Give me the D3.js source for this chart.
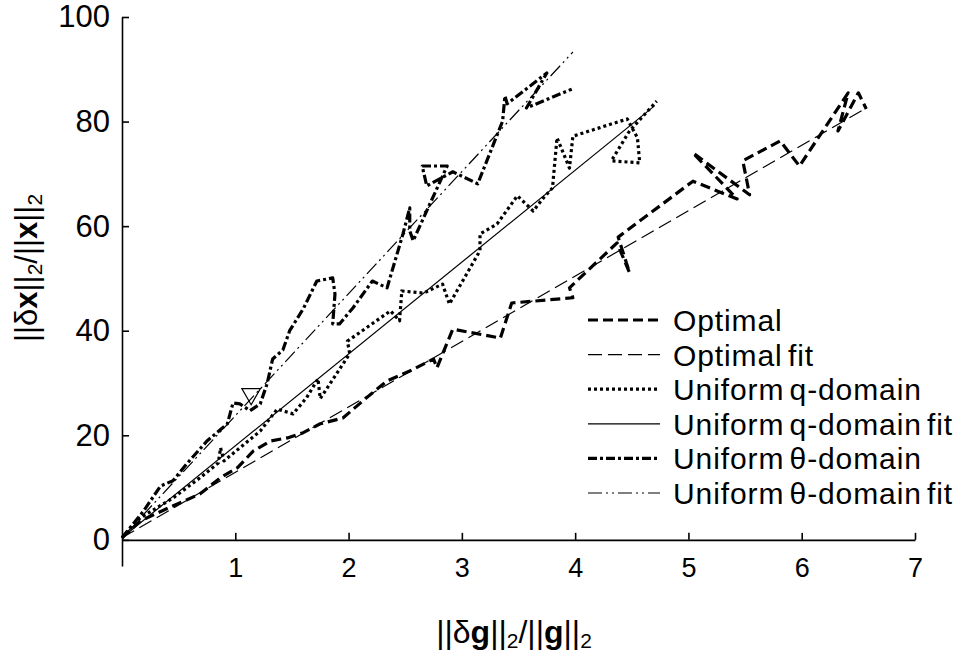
<!DOCTYPE html>
<html>
<head>
<meta charset="utf-8">
<script src="https://cdn.jsdelivr.net/npm/d3@7"></script>
<style>
  body { margin: 0; background: #fff; }
  svg { display: block; font-family: "Liberation Sans", Arial, sans-serif; }
</style>
</head>
<body>
<svg id="chart" width="964" height="655"></svg>
<script>
// series, [x, y]
const optimal = [
  [0, 0.4], [0.16, 3.6], [0.41, 6.1], [0.69, 8.8], [0.87, 11.9], [1.02, 13.8],
  [1.16, 17.0], [1.31, 18.9], [1.46, 19.5], [1.6, 20.5], [1.75, 22.2], [1.95, 23.3],
  [2.16, 27.2], [2.34, 30.4], [2.54, 32.3], [2.75, 34.6], [2.78, 32.9], [2.92, 40.3],
  [3.34, 38.6], [3.44, 45.3], [3.98, 46.3], [3.95, 48.2], [4.37, 56.8], [4.48, 51.1],
  [4.38, 57.9], [5.04, 68.6], [5.43, 65.2], [5.04, 74.0], [5.54, 66.0], [5.48, 72.5],
  [5.81, 76.3], [5.98, 71.5], [6.41, 85.5], [6.32, 78.2], [6.5, 85.5], [6.57, 82.4]
];
const optimalFit = [[0, 0.4], [6.57, 82.6]];

const uniformQ = [
  [0, 0.4], [0.16, 4.2], [0.45, 8.0], [0.69, 11.9], [0.85, 14.7], [0.87, 17.6],
  [0.9, 15.1], [1.22, 20.8], [1.37, 25.0], [1.51, 24.1], [1.63, 27.2], [1.73, 30.8],
  [1.75, 27.0], [2.01, 35.6], [1.99, 38.0], [2.37, 43.8], [2.45, 41.9], [2.47, 47.6],
  [2.66, 47.2], [2.83, 48.9], [2.89, 45.1], [3.16, 55.3], [3.16, 58.5], [3.31, 60.4],
  [3.49, 65.8], [3.63, 62.9], [3.72, 65.4], [3.8, 67.3], [3.84, 76.9], [3.95, 71.1],
  [3.98, 77.2], [4.46, 80.5], [4.55, 76.9], [4.57, 72.1], [4.32, 72.5], [4.48, 78.2],
  [4.72, 83.9]
];
const uniformQFit = [[0, 0.4], [4.7, 83.0]];

const uniformTheta = [
  [0, 0.4], [0.19, 5.5], [0.34, 10.3], [0.45, 11.3], [0.57, 14.5], [0.75, 18.9],
  [0.93, 22.2], [0.98, 26.2], [1.04, 26.0], [1.13, 24.7], [1.22, 26.0], [1.28, 29.8],
  [1.33, 34.6], [1.42, 36.3], [1.48, 40.0], [1.6, 44.2], [1.72, 49.5], [1.86, 50.1],
  [1.88, 47.0], [1.86, 41.3], [1.92, 41.3], [2.04, 44.4], [2.21, 49.5], [2.34, 48.2],
  [2.48, 58.5], [2.54, 63.5], [2.54, 59.1], [2.57, 57.2], [2.87, 71.5], [2.65, 71.5],
  [2.69, 67.7], [2.92, 70.4], [3.14, 68.1], [3.36, 80.1], [3.38, 84.9], [3.4, 83.4],
  [3.75, 89.3], [3.57, 82.6], [3.97, 86.2]
];
const uniformThetaFit = [[0, 0.4], [3.98, 93.3]];

const markerPoints = [[1.14, 27.9]];

const xTicks = [1, 2, 3, 4, 5, 6, 7];
const yTicks = [0, 20, 40, 60, 80, 100];

const legendLabels = [
  "Optimal", "Optimal fit", "Uniform q-domain",
  "Uniform q-domain fit", "Uniform θ-domain", "Uniform θ-domain fit"
];

const seriesList = [
  { data: optimal,         width: 3.2, dash: "10,5" },
  { data: optimalFit,      width: 1.2, dash: "14,6" },
  { data: uniformQ,        width: 3.2, dash: "3,3" },
  { data: uniformQFit,     width: 1.2, dash: null },
  { data: uniformTheta,    width: 3.2, dash: "9,3,3,3" },
  { data: uniformThetaFit, width: 1.2, dash: "14,4,2,4,2,4" }
];

const svg = d3.select("#chart");

const x = d3.scaleLinear().domain([0, 7]).range([122, 915]);
const y = d3.scaleLinear().domain([-5, 100]).range([566, 17]);

// axes: x axis crosses at y = 0, ticks point inward
const xAxis = d3.axisBottom(x).tickValues(xTicks).tickFormat(d3.format("d"))
  .tickSizeInner(-7).tickSizeOuter(0).tickPadding(18);
const yAxis = d3.axisLeft(y).tickValues(yTicks).tickFormat(d3.format("d"))
  .tickSizeInner(-7).tickSizeOuter(0).tickPadding(12);

const gx = svg.append("g").attr("transform", `translate(0,${y(0)})`).call(xAxis);
const gy = svg.append("g").attr("transform", `translate(${x(0)},0)`).call(yAxis);

gx.selectAll("text").attr("font-size", 27).attr("fill", "#000");
gy.selectAll("text").attr("font-size", 31).attr("fill", "#000");
svg.selectAll(".domain, .tick line").attr("stroke", "#000").attr("stroke-width", 1.6);

// lines
const line = d3.line().x(d => x(d[0])).y(d => y(d[1]));

svg.append("g").selectAll("path")
  .data(seriesList)
  .join("path")
  .attr("d", s => line(s.data))
  .attr("fill", "none")
  .attr("stroke", "#000")
  .attr("stroke-width", s => s.width)
  .attr("stroke-dasharray", s => s.dash)
  .attr("stroke-linejoin", "round");

svg.append("g").selectAll("path")
  .data(markerPoints)
  .join("path")
  .attr("d", d3.symbol(d3.symbolTriangle, 150))
  .attr("transform", d => `translate(${x(d[0])},${y(d[1])}) rotate(180)`)
  .attr("fill", "none")
  .attr("stroke", "#000")
  .attr("stroke-width", 1.2);

// legend
const legend = svg.append("g").attr("transform", "translate(588,320)");
const rows = legend.selectAll("g")
  .data(seriesList)
  .join("g")
  .attr("transform", (d, i) => `translate(0,${i * 34.6})`);

rows.append("line")
  .attr("x1", 0).attr("x2", 72)
  .attr("stroke", "#000")
  .attr("stroke-width", d => d.width)
  .attr("stroke-dasharray", d => d.dash);

rows.append("text")
  .attr("x", 85).attr("y", 11)
  .attr("font-size", 30)
  .attr("letter-spacing", 0.9)
  .attr("word-spacing", -4)
  .attr("fill", "#000")
  .text((d, i) => legendLabels[i]);

// axis titles
const sub = 21;
const xTitle = svg.append("text")
  .attr("x", 514).attr("y", 643)
  .attr("text-anchor", "middle")
  .attr("font-size", 32);
xTitle.append("tspan").text("||δ");
xTitle.append("tspan").attr("font-weight", "bold").text("g");
xTitle.append("tspan").text("||");
xTitle.append("tspan").attr("font-size", sub).attr("dy", 5).text("2");
xTitle.append("tspan").attr("dy", -5).text("/||");
xTitle.append("tspan").attr("font-weight", "bold").text("g");
xTitle.append("tspan").text("||");
xTitle.append("tspan").attr("font-size", sub).attr("dy", 5).text("2");

const yTitle = svg.append("text")
  .attr("transform", "translate(37,268) rotate(-90)")
  .attr("text-anchor", "middle")
  .attr("font-size", 31);
yTitle.append("tspan").text("||δ");
yTitle.append("tspan").attr("font-weight", "bold").text("x");
yTitle.append("tspan").text("||");
yTitle.append("tspan").attr("font-size", sub).attr("dy", 5).text("2");
yTitle.append("tspan").attr("dy", -5).text("/||");
yTitle.append("tspan").attr("font-weight", "bold").text("x");
yTitle.append("tspan").text("||");
yTitle.append("tspan").attr("font-size", sub).attr("dy", 5).text("2");
</script>
</body>
</html>
